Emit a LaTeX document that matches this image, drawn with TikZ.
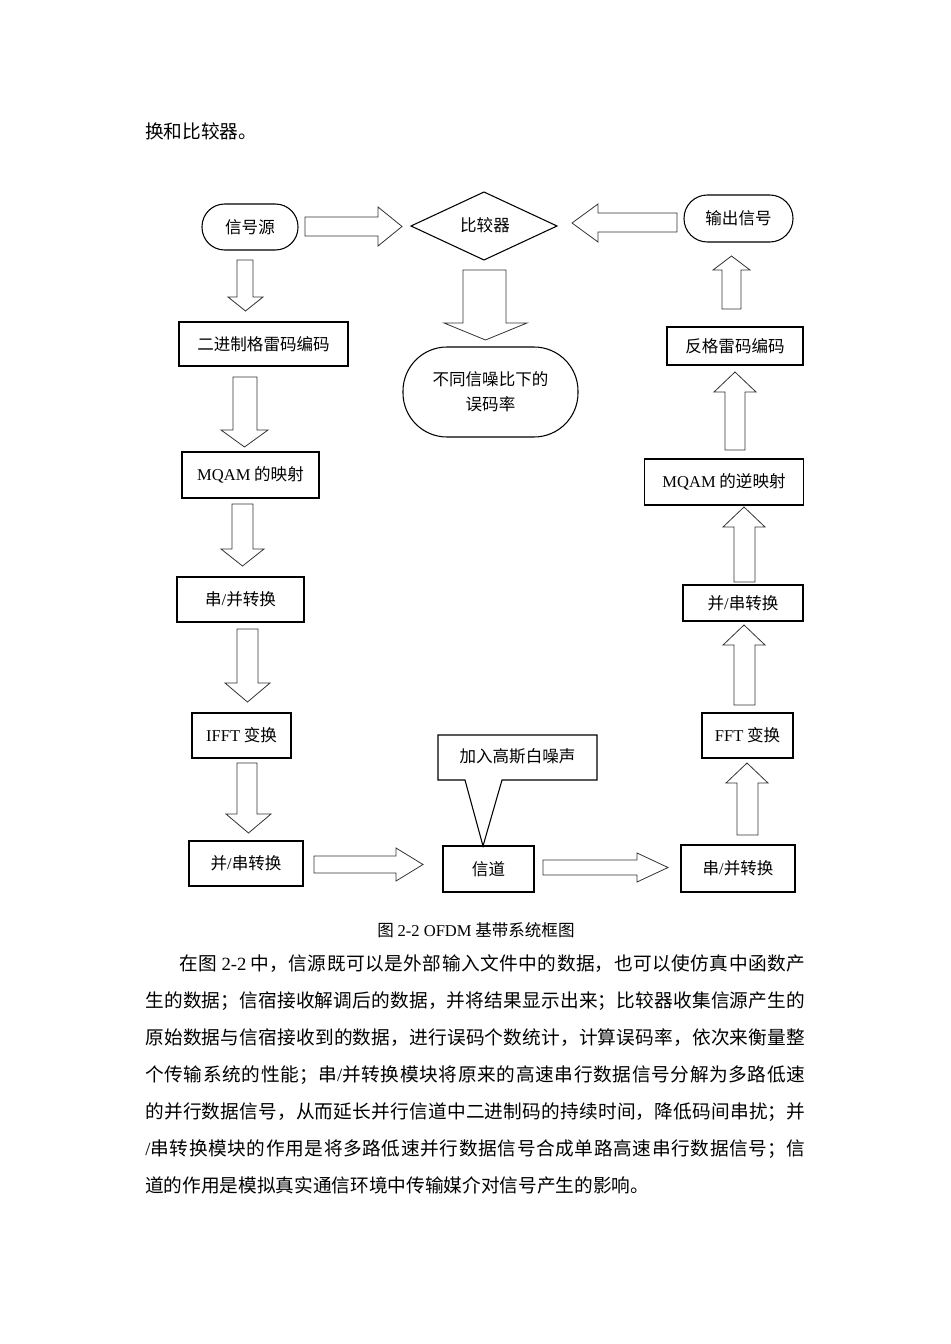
\documentclass[tikz,border=0pt]{standalone}
\usepackage{fontspec}
\setmainfont{Noto Sans CJK SC}
\newfontfamily\latf{Liberation Serif}
\XeTeXlinebreaklocale "zh"
\XeTeXlinebreakskip=0pt plus 3pt
\newcommand\blkv[7]{\draw[blk] (#1,#3)--(#2,#3)--(#2,#4)--(#6,#4)--({(#5+#6)/2},#7)--(#5,#4)--(#1,#4)--cycle;}
\newcommand\blkh[7]{\draw[blk] (#3,#1)--(#4,#1)--(#4,#5)--(#7,{(#5+#6)/2})--(#4,#6)--(#4,#2)--(#3,#2)--cycle;}
\newcommand\jline[2]{\parbox[b]{#1}{\parfillskip=0pt #2}}
\tikzset{
  box/.style={draw, line width=0.8pt, inner sep=0pt, font=\fontsize{12.4pt}{15pt}\selectfont},
  blk/.style={draw=black!80, line width=0.6pt, fill=white},
  bodyln/.style={anchor=base west, inner sep=0pt, font=\fontsize{14pt}{18pt}\selectfont},
  lbl/.style={inner sep=0pt, font=\fontsize{12.4pt}{15pt}\selectfont},
}
\begin{document}
\begin{tikzpicture}[x=0.75pt,y=-0.75pt]
\useasboundingbox[fill=white] (0,0) rectangle (950,1344);
% top text
\node[bodyln] (top) at (145,139) {换和比较器。};
% top row
\node[box, rounded corners=17pt, minimum width=72pt, minimum height=34.5pt] (src) at (250,227) {信号源};
\draw[line width=0.8pt] (411,226)--(484,192)--(557,226)--(484,260)--cycle;
\node[lbl] (cmp) at (485,225) {比较器};
\node[box, rounded corners=17.5pt, minimum width=81.75pt, minimum height=35.25pt] (out) at (738.5,218.5) {输出信号};
\node[box, rounded corners=33pt, minimum width=131.25pt, minimum height=67.5pt, align=center, font=\fontsize{12.4pt}{18.75pt}\selectfont] (ber) at (490.5,392) {不同信噪比下的\\误码率};
% left column
\node[box, minimum width=126.75pt, minimum height=33pt] (gray) at (263.5,344) {二进制格雷码编码};
\node[box, minimum width=102.75pt, minimum height=34.5pt] (mqam) at (250.5,475) {{\latf MQAM} 的映射};
\node[box, minimum width=95.25pt, minimum height=33.75pt] (sp1) at (240.5,599.5) {串{\latf /}并转换};
\node[box, minimum width=74.25pt, minimum height=33.75pt] (ifft) at (241.5,735.5) {{\latf IFFT} 变换};
\node[box, minimum width=85.5pt, minimum height=33.75pt] (ps1) at (246,863.5) {并{\latf /}串转换};
% bottom middle
\node[box, minimum width=68.25pt, minimum height=34.5pt] (chan) at (488.5,869) {信道};
\draw[line width=0.8pt] (438,735)--(597,735)--(597,780)--(502,780)--(483,846)--(465,780)--(438,780)--cycle;
\node[lbl] (noise) at (517.5,756) {加入高斯白噪声};
% right column
\node[box, minimum width=85.5pt, minimum height=35.25pt] (sp2) at (738,868.5) {串{\latf /}并转换};
\node[box, minimum width=68.25pt, minimum height=33.75pt] (fft) at (747.5,735.5) {{\latf FFT} 变换};
\node[box, minimum width=90pt, minimum height=27pt] (ps2) at (743,603) {并{\latf /}串转换};
\node[box, minimum width=119.25pt, minimum height=34.5pt] (minv) at (724,482) {{\latf MQAM} 的逆映射};
\node[box, minimum width=102pt, minimum height=28.5pt] (igray) at (735,346) {反格雷码编码};
% block arrows
\blkh{217}{236}{305}{378}{207}{246}{402}
\blkh{213}{232}{677}{598}{204}{242}{572}
\blkh{856}{873}{314}{396}{848}{881}{423}
\blkh{860}{875}{543}{637}{853}{882}{668}
\blkv{463}{506}{270}{323}{444}{527}{340}
\blkv{722}{741}{309}{270}{713}{750}{256}
\blkv{725}{745}{450}{392}{714}{756}{372}
\blkv{734}{755}{582}{527}{723}{765}{507}
\blkv{734}{755}{705}{645}{723}{765}{625}
\blkv{737}{758}{835}{783}{726}{768}{763}
\blkv{237}{253}{260}{297}{228}{263}{311}
\blkv{233}{257}{377}{430}{221}{268}{447}
\blkv{232}{253}{504}{549}{221}{264}{566}
\blkv{237}{258}{629}{683}{225}{270}{702}
\blkv{237}{257}{763}{814}{226}{271}{833}
% caption
\node[lbl] (cap) at (476,930) {图 {\latf 2-2 OFDM} 基带系统框图};
% body text
\node[bodyln] (l1) at (179,970) {\jline{469.5pt}{在图 {\latf 2-2} 中，信源既可以是外部输入文件中的数据，也可以使仿真中函数产}};
\node[bodyln] (l2) at (145,1007) {\jline{495pt}{生的数据；信宿接收解调后的数据，并将结果显示出来；比较器收集信源产生的}};
\node[bodyln] (l3) at (145,1044) {\jline{495pt}{原始数据与信宿接收到的数据，进行误码个数统计，计算误码率，依次来衡量整}};
\node[bodyln] (l4) at (145,1081) {\jline{495pt}{个传输系统的性能；串{\latf /}并转换模块将原来的高速串行数据信号分解为多路低速}};
\node[bodyln] (l5) at (145,1118) {\jline{495pt}{的并行数据信号，从而延长并行信道中二进制码的持续时间，降低码间串扰；并}};
\node[bodyln] (l6) at (145,1155) {\jline{495pt}{{\latf /}串转换模块的作用是将多路低速并行数据信号合成单路高速串行数据信号；信}};
\node[bodyln] (l7) at (145,1192) {道的作用是模拟真实通信环境中传输媒介对信号产生的影响。};
\end{tikzpicture}
\end{document}
